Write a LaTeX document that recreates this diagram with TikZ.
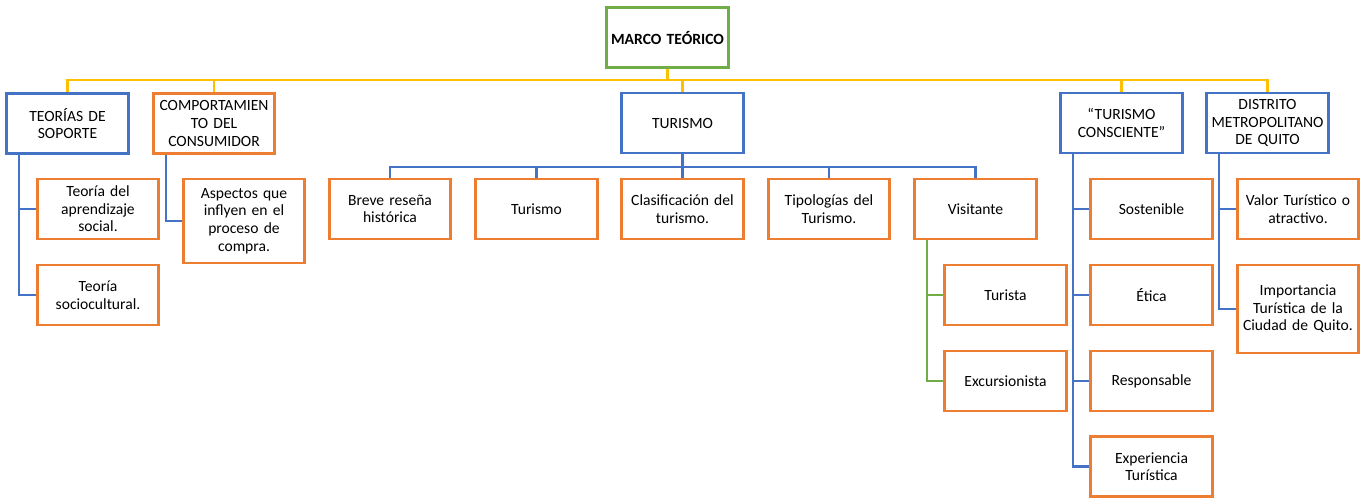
\documentclass[tikz,border=0pt]{standalone}
\usepackage{fontspec}
\setmainfont{Carlito}
\definecolor{cblue}{HTML}{4472C4}
\definecolor{corange}{HTML}{ED7D31}
\definecolor{cgreen}{HTML}{70AD47}
\definecolor{cyellow}{HTML}{FFC000}
\tikzset{
  box/.style={draw, line width=2.2pt, fill=white, align=center, inner sep=1pt,
    minimum width=90.75pt, minimum height=45pt, text width=89pt,
    font=\fontsize{11.7}{13.2}\selectfont},
  bluebox/.style={box, draw=cblue},
  orangebox/.style={box, draw=corange},
  greenbox/.style={box, draw=cgreen},
  ylink/.style={draw=cyellow, line width=2.2pt},
  blink/.style={draw=cblue, line width=2.2pt},
  glink/.style={draw=cgreen, line width=2.2pt},
}
\begin{document}
\begin{tikzpicture}[x=0.75pt, y=-0.75pt]
\useasboundingbox (0,0) rectangle (1370,497);

% horizontal bus levels and spine positions
\coordinate (ybus) at (0,80);
\coordinate (tbus) at (0,167);
\coordinate (sTS) at (19,0);
\coordinate (sCC) at (166,0);
\coordinate (sVI) at (927,0);
\coordinate (sTC) at (1073,0);
\coordinate (sDM) at (1219,0);

% top-level nodes
\node[greenbox, font=\fontsize{11.7}{13.2}\selectfont\bfseries] (mt) at (667.5,37.5) {MARCO TEÓRICO};
\node[bluebox] (ts) at (67.5,123.5) {TEORÍAS DE\\SOPORTE};
\node[orangebox] (cc) at (214,123.5) {COMPORTAMIEN\\TO DEL\\CONSUMIDOR};
\node[bluebox] (tur) at (682.5,123) {TURISMO};
\node[bluebox] (tc) at (1121.5,123) {“TURISMO\\CONSCIENTE”};
\node[bluebox] (dmq) at (1267.5,123) {DISTRITO\\METROPOLITANO\\DE QUITO};

% children of Teorías de soporte
\node[orangebox] (tas) at (98,209) {Teoría del\\aprendizaje\\social.};
\node[orangebox] (tsc) at (98,295) {Teoría\\sociocultural.};

% child of Comportamiento del consumidor
\node[orangebox, minimum height=63pt] (asp) at (244,221) {Aspectos que\\inflyen en el\\proceso de\\compra.};

% children of Turismo
\node[orangebox] (brh) at (390,209) {Breve reseña\\histórica};
\node[orangebox] (tu2) at (536.5,209) {Turismo};
\node[orangebox] (cla) at (682.5,209) {Clasificación del\\turismo.};
\node[orangebox] (tip) at (829,209) {Tipologías del\\Turismo.};
\node[orangebox] (vis) at (975.5,209) {Visitante};

% children of Visitante
\node[orangebox] (trt) at (1005.5,295) {Turista};
\node[orangebox] (exc) at (1005.5,381) {Excursionista};

% children of Turismo consciente
\node[orangebox] (sos) at (1151.5,209) {Sostenible};
\node[orangebox] (eti) at (1151.5,295) {Ética};
\node[orangebox] (res) at (1151.5,381) {Responsable};
\node[orangebox] (exp) at (1151.5,466.5) {Experiencia\\Turística};

% children of Distrito Metropolitano de Quito
\node[orangebox] (val) at (1298,209) {Valor Turístico o\\atractivo.};
\node[orangebox, minimum height=66pt] (imp) at (1298,309) {Importancia\\Turística de la\\Ciudad de Quito.};

% yellow bus from the root
\draw[ylink] (mt.south) -- (mt.south |- ybus);
\draw[ylink] (ts.north) -- (ts.north |- ybus) -- (dmq.north |- ybus) -- (dmq.north);
\draw[ylink] (cc.north) -- (cc.north |- ybus);
\draw[ylink] (tur.north) -- (tur.north |- ybus);
\draw[ylink] (tc.north) -- (tc.north |- ybus);

% blue bus under Turismo
\draw[blink] (tur.south) -- (tur.south |- tbus);
\draw[blink] (brh.north) -- (brh.north |- tbus) -- (vis.north |- tbus) -- (vis.north);
\draw[blink] (tu2.north) -- (tu2.north |- tbus);
\draw[blink] (cla.north) -- (cla.north |- tbus);
\draw[blink] (tip.north) -- (tip.north |- tbus);

% side spines
\draw[blink] (sTS |- ts.south) |- (tsc.west);
\draw[blink] (sTS |- tas.west) -- (tas.west);
\draw[blink] (sCC |- cc.south) |- (asp.west);
\draw[glink] (sVI |- vis.south) |- (exc.west);
\draw[glink] (sVI |- trt.west) -- (trt.west);
\draw[blink] (sTC |- tc.south) |- (exp.west);
\draw[blink] (sTC |- sos.west) -- (sos.west);
\draw[blink] (sTC |- eti.west) -- (eti.west);
\draw[blink] (sTC |- res.west) -- (res.west);
\draw[blink] (sDM |- dmq.south) |- (imp.west);
\draw[blink] (sDM |- val.west) -- (val.west);
\end{tikzpicture}
\end{document}
